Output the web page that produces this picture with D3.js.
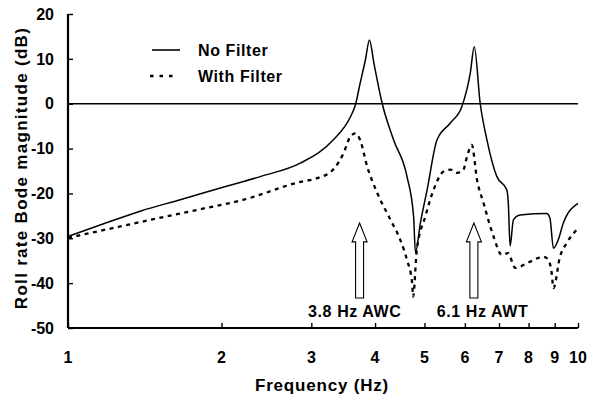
<!DOCTYPE html>
<html>
<head>
<meta charset="utf-8">
<script src="https://cdn.jsdelivr.net/npm/d3@7"></script>
<style>
  body { margin: 0; background: #fff; }
  svg { display: block; font-family: "Liberation Sans", Arial, sans-serif; font-weight: bold; }
</style>
</head>
<body>
<div id="chart"></div>
<script>
// --- data (frequency in Hz, magnitude in dB) ---
const noFilterFreq = [1.00, 1.16, 1.39, 1.66, 1.99, 2.39, 2.86, 3.31, 3.58, 3.66, 3.74, 3.83, 3.90, 3.98, 4.13, 4.35, 4.62, 4.76, 4.80, 4.91, 5.06, 5.29, 5.62, 5.92, 6.15, 6.26, 6.43, 6.63, 6.93, 7.25, 7.30, 7.36, 7.47, 7.70, 8.68, 8.81, 8.95, 9.15, 9.36, 10.0];
const noFilterDb   = [-29.6, -27.0, -23.9, -21.4, -18.8, -16.2, -13.2, -8.1, -2.9, -0.3, 4.6, 9.8, 14.2, 9.0, 0.1, -8.1, -16.2, -25.1, -33.2, -26.5, -19.2, -8.1, -4.3, -0.6, 6.9, 12.7, 0.1, -8.1, -16.2, -19.2, -22.1, -31.7, -25.9, -24.8, -24.5, -25.5, -32.2, -30.3, -26.6, -22.2];

const withFilterFreq = [1.00, 1.16, 1.45, 1.82, 2.21, 2.86, 3.08, 3.31, 3.47, 3.58, 3.66, 3.74, 3.86, 4.04, 4.29, 4.48, 4.62, 4.73, 4.75, 4.83, 5.02, 5.21, 5.45, 5.62, 5.79, 5.96, 6.06, 6.19, 6.34, 6.53, 6.83, 7.09, 7.30, 7.36, 7.53, 8.06, 8.55, 8.75, 8.88, 8.95, 9.22, 9.50, 9.94];
const withFilterDb   = [-29.9, -28.3, -25.9, -23.5, -21.4, -17.4, -16.6, -14.7, -11.0, -7.3, -6.6, -8.1, -14.0, -19.9, -25.9, -30.3, -34.8, -40.0, -43.0, -32.6, -25.1, -19.2, -15.1, -14.7, -15.4, -14.7, -11.8, -9.2, -17.0, -22.2, -29.6, -33.7, -33.3, -34.1, -36.6, -35.2, -34.1, -34.8, -37.8, -41.1, -34.1, -31.1, -28.1];

const xTicks = [1, 2, 3, 4, 5, 6, 7, 8, 9, 10];
const yTicks = [20, 10, 0, -10, -20, -30, -40, -50];

const arrowFreqs  = [3.73, 6.25];
const arrowLabels = ["3.8 Hz AWC", "6.1 Hz AWT"];
const labelFreqs  = [3.65, 6.5];

const legendNames = ["No Filter", "With Filter"];

// --- layout ---
const width = 591, height = 399;
const x = d3.scaleLog().domain([1, 10]).range([68, 578]);
const y = d3.scaleLinear().domain([-50, 20]).range([328, 14]);

const svg = d3.select("#chart").append("svg")
  .attr("width", width).attr("height", height);

const line = d3.line()
  .x(d => x(d[0])).y(d => y(d[1]))
  .curve(d3.curveMonotoneX);

// zero reference line
svg.append("line")
  .attr("x1", x(1)).attr("x2", x(10))
  .attr("y1", y(0)).attr("y2", y(0))
  .attr("stroke", "#000").attr("stroke-width", 1.6);

// curves
svg.append("path")
  .datum(d3.zip(noFilterFreq, noFilterDb))
  .attr("d", line)
  .attr("fill", "none").attr("stroke", "#000").attr("stroke-width", 1.5);

svg.append("path")
  .datum(d3.zip(withFilterFreq, withFilterDb))
  .attr("d", line)
  .attr("fill", "none").attr("stroke", "#000").attr("stroke-width", 2.3)
  .attr("stroke-dasharray", "4,4.5");

// axes (inner ticks)
const yAxis = svg.append("g")
  .attr("transform", `translate(${x(1)},0)`)
  .call(d3.axisRight(y).tickValues(yTicks).tickSize(5).tickFormat(""));
yAxis.select(".domain").attr("stroke-width", 2.2).attr("d", `M0,${y(20)}V${y(-50)}`);

const xAxis = svg.append("g")
  .attr("transform", `translate(0,${y(-50)})`)
  .call(d3.axisTop(x).tickValues(xTicks).tickSize(5).tickFormat(""));
xAxis.select(".domain").attr("stroke-width", 2.2).attr("d", `M${x(1)},0H${x(10)}`);
svg.selectAll(".tick line").attr("stroke-width", 1.4);

// tick labels
svg.append("g").selectAll("text")
  .data(yTicks).join("text")
  .attr("x", 54).attr("y", d => y(d))
  .attr("dy", "0.36em")
  .attr("text-anchor", "end")
  .style("font-size", "16px")
  .text(d => d);

svg.append("g").selectAll("text")
  .data(xTicks).join("text")
  .attr("x", d => x(d)).attr("y", 363)
  .attr("text-anchor", "middle")
  .style("font-size", "16px")
  .text(d => d);

// axis titles
svg.append("text")
  .attr("x", 322).attr("y", 391)
  .attr("text-anchor", "middle")
  .style("font-size", "17px").style("letter-spacing", "0.8px")
  .text("Frequency (Hz)");

svg.append("text")
  .attr("transform", "translate(26.5,168) rotate(-90)")
  .attr("text-anchor", "middle")
  .style("font-size", "17px").style("letter-spacing", "1.3px")
  .text("Roll rate Bode magnitude (dB)");

// legend
const legend = svg.append("g");
legend.append("line")
  .attr("x1", 152).attr("x2", 180).attr("y1", 50).attr("y2", 50)
  .attr("stroke", "#000").attr("stroke-width", 1.6);
legend.append("line")
  .attr("x1", 150).attr("x2", 173).attr("y1", 76).attr("y2", 76)
  .attr("stroke", "#000").attr("stroke-width", 2.3)
  .attr("stroke-dasharray", "3.5,6");
legend.selectAll("text")
  .data(legendNames).join("text")
  .attr("x", 198).attr("y", (d, i) => 50 + i * 26)
  .attr("dy", "0.36em")
  .style("font-size", "16px").style("letter-spacing", "0.6px")
  .text(d => d);

// hollow arrows marking the wing modes
const tipY = y(-26.6), headY = y(-30.8), baseY = y(-43.3);
svg.append("g").selectAll("path")
  .data(arrowFreqs).join("path")
  .attr("d", f => {
    const cx = x(f);
    return `M${cx},${tipY}L${cx + 7.5},${headY}L${cx + 4},${headY}L${cx + 4},${baseY}` +
           `L${cx - 4},${baseY}L${cx - 4},${headY}L${cx - 7.5},${headY}Z`;
  })
  .attr("fill", "#fff").attr("stroke", "#000").attr("stroke-width", 1.1);

svg.append("g").selectAll("text")
  .data(arrowLabels).join("text")
  .attr("x", (d, i) => x(labelFreqs[i])).attr("y", 317)
  .attr("text-anchor", "middle")
  .style("font-size", "16px").style("letter-spacing", "0.6px")
  .text(d => d);
</script>
</body>
</html>
